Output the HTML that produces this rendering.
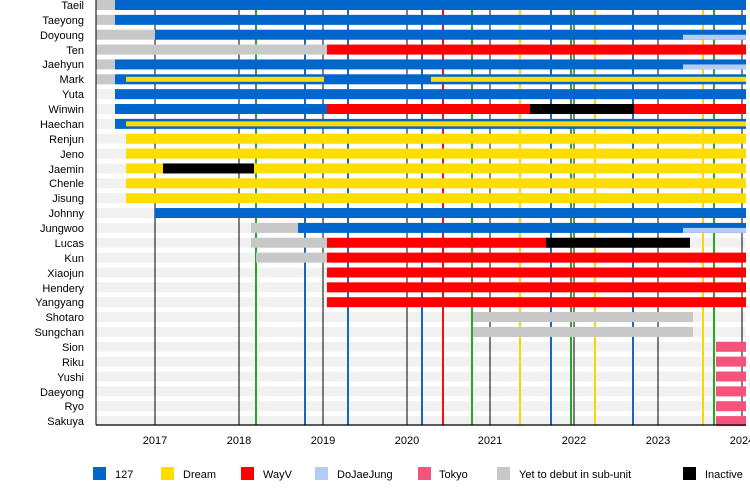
<!DOCTYPE html>
<html><head><meta charset="utf-8"><style>
body{margin:0;background:#fff}
svg{display:block;font-family:"Liberation Sans",sans-serif}
</style></head><body>
<svg id="s" width="750" height="500" viewBox="0 0 750 500">
<g id="stripes"></g><g id="vlines" shape-rendering="crispEdges"></g><g id="bars"></g>
<line x1="96" y1="0" x2="96" y2="425" stroke="#000" stroke-width="1" shape-rendering="crispEdges"/>
<line x1="96" y1="425" x2="746" y2="425" stroke="#000" stroke-width="1.2"/>
<g font-size="11" text-anchor="end" fill="#000">
<text x="84" y="9">Taeil</text><text x="84" y="24">Taeyong</text><text x="84" y="39">Doyoung</text><text x="84" y="54">Ten</text>
<text x="84" y="68">Jaehyun</text><text x="84" y="83">Mark</text><text x="84" y="98">Yuta</text><text x="84" y="113">Winwin</text>
<text x="84" y="128">Haechan</text><text x="84" y="143">Renjun</text><text x="84" y="158">Jeno</text><text x="84" y="173">Jaemin</text>
<text x="84" y="187">Chenle</text><text x="84" y="202">Jisung</text><text x="84" y="217">Johnny</text><text x="84" y="232">Jungwoo</text>
<text x="84" y="247">Lucas</text><text x="84" y="262">Kun</text><text x="84" y="277">Xiaojun</text><text x="84" y="292">Hendery</text>
<text x="84" y="306">Yangyang</text><text x="84" y="321">Shotaro</text><text x="84" y="336">Sungchan</text><text x="84" y="351">Sion</text>
<text x="84" y="366">Riku</text><text x="84" y="381">Yushi</text><text x="84" y="396">Daeyong</text><text x="84" y="410">Ryo</text>
<text x="84" y="425">Sakuya</text>
</g>
<g font-size="11" text-anchor="middle">
<text x="155" y="444">2017</text><text x="239" y="444">2018</text><text x="323" y="444">2019</text><text x="407" y="444">2020</text>
<text x="490" y="444">2021</text><text x="574" y="444">2022</text><text x="658" y="444">2023</text><text x="742" y="444">2024</text>
</g>
<g font-size="11">
<rect x="93" y="467" width="13" height="13" fill="#0066cc"/><text x="115" y="478">127</text>
<rect x="161" y="467" width="13" height="13" fill="#ffdd00"/><text x="183" y="478">Dream</text>
<rect x="241" y="467" width="13" height="13" fill="#ff0000"/><text x="263" y="478">WayV</text>
<rect x="315" y="467" width="13" height="13" fill="#b3ccf5"/><text x="337" y="478">DoJaeJung</text>
<rect x="418" y="467" width="13" height="13" fill="#f5527c"/><text x="439" y="478">Tokyo</text>
<rect x="497" y="467" width="13" height="13" fill="#c8c8c8"/><text x="519" y="478">Yet to debut in sub-unit</text>
<rect x="683" y="467" width="13" height="13" fill="#000"/><text x="705" y="478">Inactive</text>
</g>
</svg>
<script>
var NS="http://www.w3.org/2000/svg";
function r(g,x1,x2,y,h,c){var e=document.createElementNS(NS,"rect");e.setAttribute("x",x1);e.setAttribute("y",y);e.setAttribute("width",x2-x1);e.setAttribute("height",h);e.setAttribute("fill",c);document.getElementById(g).appendChild(e);}
function l(x,c,w){var e=document.createElementNS(NS,"line");e.setAttribute("x1",x);e.setAttribute("x2",x);e.setAttribute("y1",0);e.setAttribute("y2",425);e.setAttribute("stroke",c);e.setAttribute("stroke-width",w);document.getElementById("vlines").appendChild(e);}
var sp=14.86;function cy(i){return 5+i*sp;}
for(var i=0;i<29;i++)r("stripes",96,746,cy(i)-5,10,"#f1f1f1");
[155,239,323,407,490,574,658,742].forEach(function(x){l(x,"#000",1)});
[256,472,571,714].forEach(function(x){l(x,"#22aa22",2)});
[305,348,422,551,633].forEach(function(x){l(x,"#1a66bb",2)});
[443].forEach(function(x){l(x,"#ee1111",2)});
[520,595,703].forEach(function(x){l(x,"#f5d800",2)});
var B="#0066cc",Y="#ffdd00",R="#ff0000",LB="#b3ccf5",P="#f5527c",G="#c8c8c8",K="#000";
function b(i,x1,x2,c){r("bars",x1,x2,cy(i)-5,10,c);}
function th(i,x1,x2,c){r("bars",x1,x2,cy(i)-2.5,5,c);}
function lo(i,x1,x2,c){r("bars",x1,x2,cy(i),5,c);}
b(0,96,115,G);b(0,115,746,B);
b(1,96,115,G);b(1,115,746,B);
b(2,96,155,G);b(2,155,746,B);lo(2,683,746,LB);
b(3,96,327,G);b(3,327,746,R);
b(4,96,115,G);b(4,115,746,B);lo(4,683,746,LB);
b(5,96,115,G);b(5,115,746,B);th(5,126,324,Y);th(5,431,746,Y);
b(6,115,746,B);
b(7,115,327,B);b(7,327,530,R);b(7,530,634,K);b(7,634,746,R);
b(8,115,746,B);th(8,126,746,Y);
b(9,126,746,Y);b(10,126,746,Y);
b(11,126,746,Y);b(11,163,254,K);
b(12,126,746,Y);b(13,126,746,Y);
b(14,155,746,B);
b(15,251,298,G);b(15,298,746,B);lo(15,683,746,LB);
b(16,251,327,G);b(16,327,546,R);b(16,546,690,K);
b(17,256,327,G);b(17,327,746,R);
b(18,327,746,R);b(19,327,746,R);b(20,327,746,R);
b(21,473,693,G);b(22,473,693,G);
for(var i=23;i<29;i++)b(i,716,746,P);
</script>
</body></html>
